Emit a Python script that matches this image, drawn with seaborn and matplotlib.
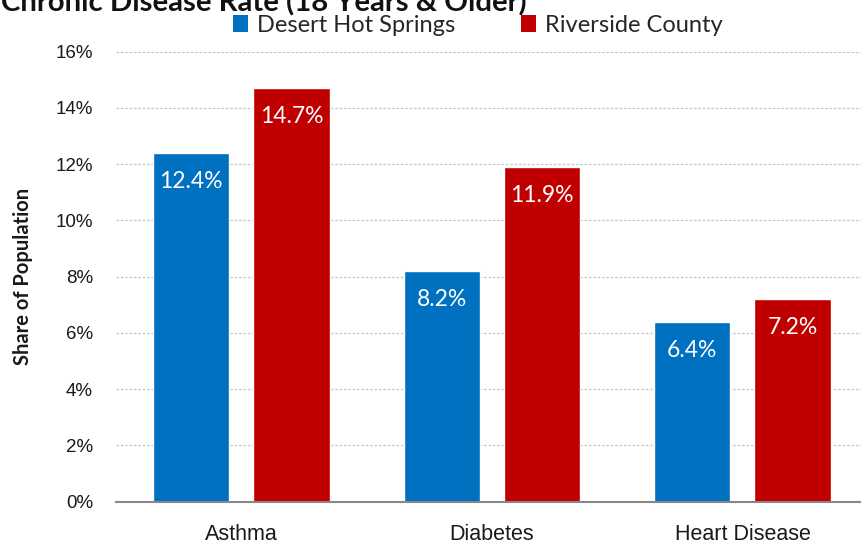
import matplotlib
matplotlib.use("Agg")
import matplotlib.pyplot as plt
from matplotlib.patches import Patch
import seaborn as sns
import pandas as pd

# Chronic disease share of population, 18 years and older
categories = ["Asthma", "Diabetes", "Heart Disease"]
series_names = ["Desert Hot Springs", "Riverside County"]
desert_hot_springs = [12.4, 8.2, 6.4]
riverside_county = [14.7, 11.9, 7.2]
y_ticks = [0, 2, 4, 6, 8, 10, 12, 14, 16]
y_tick_labels = [f"{t}%" for t in y_ticks]

colors = {"Desert Hot Springs": "#0070C0", "Riverside County": "#C00000"}

df = pd.DataFrame({
    "Condition": categories * 2,
    "Area": [series_names[0]] * 3 + [series_names[1]] * 3,
    "Rate": desert_hot_springs + riverside_county,
})

sns.set_theme(style="white")
LABEL_FONT = ["Lato", "DejaVu Sans"]
TICK_FONT = ["Liberation Sans Narrow", "Liberation Sans", "DejaVu Sans"]
plt.rcParams["font.family"] = LABEL_FONT

W, H = 861, 546
fig = plt.figure(figsize=(W / 100, H / 100), dpi=100)
ax = fig.add_axes([116 / W, (H - 501.7) / H, (861 - 116) / W, (501.7 - 51.7) / H])

sns.barplot(
    data=df, x="Condition", y="Rate", hue="Area",
    order=categories, hue_order=series_names, palette=colors,
    width=0.8, gap=0.24, saturation=1, legend=False, ax=ax,
)

ax.set_xlim(-0.5, 2.473)
ax.set_ylim(0, 16)
ax.set_yticks(y_ticks)
ax.set_yticklabels(y_tick_labels, family=TICK_FONT, fontsize=13.5, color="#1a1a1a")
ax.set_xticks(range(len(categories)))
ax.set_xticklabels(categories, family=TICK_FONT, fontsize=15.5, color="#1a1a1a")
ax.tick_params(axis="y", length=0, pad=16.5)
ax.tick_params(axis="x", length=0, pad=16)
ax.set_xlabel("")
ax.set_ylabel("Share of Population", fontsize=14.5, fontweight="bold", color="#1a1a1a")
ax.yaxis.set_label_coords(-83 / 745, 0.5)

# dotted gridlines at each 2% step
for t in y_ticks[1:]:
    ax.axhline(t, color="#C4C4C4", linewidth=0.9, linestyle=(0, (2, 1.5)), zorder=0)
ax.set_axisbelow(True)

for side in ["left", "right", "top"]:
    ax.spines[side].set_visible(False)
ax.spines["bottom"].set_color("#888888")
ax.spines["bottom"].set_linewidth(1.5)

# value labels inside the top of each bar
for container, values in zip(ax.containers, [desert_hot_springs, riverside_county]):
    for patch, v in zip(container.patches, values):
        ax.annotate(
            f"{v:.1f}%",
            xy=(patch.get_x() + patch.get_width() / 2, v),
            xytext=(0, -20.5), textcoords="offset points",
            ha="center", va="center", color="white", fontsize=16.5,
        )

handles = [Patch(facecolor=colors[n], edgecolor="none") for n in series_names]
fig.legend(
    handles, series_names, loc="center", bbox_to_anchor=(478 / W, 1 - 25 / H),
    ncol=2, frameon=False, fontsize=17, handlelength=0.6, handleheight=0.7,
    handletextpad=0.4, columnspacing=2.8, borderaxespad=0, borderpad=0,
)

fig.text(
    527 / W, 1 - 11 / H, "Chronic Disease Rate (18 Years & Older)",
    ha="right", va="baseline", fontsize=21.2, fontweight="bold", color="#111111",
)

fig.savefig("out.png", dpi=100)
